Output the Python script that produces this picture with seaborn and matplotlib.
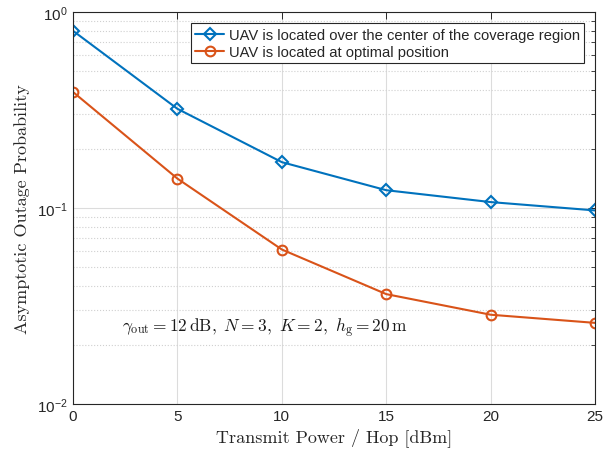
import numpy as np
import pandas as pd
import matplotlib
matplotlib.use("Agg")
import matplotlib.pyplot as plt
import seaborn as sns
from matplotlib.ticker import LogLocator, FixedLocator, NullFormatter, FuncFormatter

# Transmit power per hop (dBm)
power_dbm = [0, 5, 10, 15, 20, 25]
# Asymptotic outage probability for the two UAV placements
outage_center = [0.80, 0.32, 0.171, 0.123, 0.107, 0.097]
outage_optimal = [0.39, 0.141, 0.0613, 0.0363, 0.0285, 0.0259]
series_labels = [
    "UAV is located over the center of the coverage region",
    "UAV is located at optimal position",
]
x_ticks = [0, 5, 10, 15, 20, 25]
y_ticks = [1e-2, 1e-1, 1e0]
annotation = (r"$\gamma_{\rm out} = 12\,{\rm dB},\ N = 3,\ K = 2,\ "
              r"h_{\rm g} = 20\,{\rm m}$")

sns.set_theme(style="white")
plt.rcParams.update({
    "font.family": ["Liberation Sans", "DejaVu Sans"],
    "mathtext.fontset": "custom",
    "mathtext.rm": "Liberation Sans",
    "mathtext.it": "Liberation Sans:italic",
    "mathtext.bf": "Liberation Sans:bold",
})

blue = "#0072BD"
orange = "#D95319"

df = pd.DataFrame({
    "power": power_dbm * 2,
    "outage": outage_center + outage_optimal,
    "series": [series_labels[0]] * len(power_dbm) + [series_labels[1]] * len(power_dbm),
})

fig = plt.figure(figsize=(6.13, 4.56), dpi=100)
ax = fig.add_axes([0.119, 0.112, 0.852, 0.860])

styles = [(series_labels[0], blue, "D", 6.5), (series_labels[1], orange, "o", 7)]
for name, color, marker, ms in styles:
    sub = df[df["series"] == name]
    sns.lineplot(data=sub, x="power", y="outage", ax=ax, color=color,
                 marker=marker, markersize=ms, markerfacecolor="none",
                 markeredgecolor=color, markeredgewidth=1.5, linewidth=1.5,
                 label=name)

ax.set_yscale("log")
ax.set_xlim(0, 25)
ax.set_ylim(1e-2, 1e0)
ax.xaxis.set_major_locator(FixedLocator(x_ticks))
ax.yaxis.set_major_locator(FixedLocator(y_ticks))
ax.yaxis.set_minor_locator(LogLocator(base=10, subs=np.arange(2, 10)))
ax.yaxis.set_minor_formatter(NullFormatter())
ax.yaxis.set_major_formatter(FuncFormatter(lambda v, p: r"$10^{%d}$" % round(np.log10(v))))

ax.tick_params(axis="both", which="both", direction="in", top=True, right=True,
               labelsize=11, colors="#262626", labelcolor="#262626")
ax.tick_params(axis="both", which="major", length=5, width=0.7)
ax.tick_params(axis="y", which="minor", length=3, width=0.6)

ax.grid(True, which="major", color="#dcdcdc", linewidth=0.8, linestyle="-")
ax.grid(True, which="minor", axis="y", color="#d0d0d0", linewidth=0.8, linestyle=":")
ax.set_axisbelow(True)
for s in ax.spines.values():
    s.set_color("#262626")
    s.set_linewidth(0.8)

ax.set_xlabel("Transmit Power / Hop [dBm]", family="cmr10", fontsize=13,
              color="#262626", labelpad=3)
ax.set_ylabel("Asymptotic Outage Probability", family="cmr10", fontsize=13,
              color="#262626", labelpad=5)

ax.text(2.35, 0.0247, annotation, fontsize=12.5, va="center", ha="left",
        math_fontfamily="cm", color="#1a1a1a")

leg = ax.legend(loc="upper right", bbox_to_anchor=(0.985, 0.978), fontsize=10.6,
                frameon=True, fancybox=False, borderpad=0.3, labelspacing=0.2,
                handlelength=2.0, handletextpad=0.3, borderaxespad=0.2)
leg.get_frame().set_edgecolor("#262626")
leg.get_frame().set_linewidth(0.8)
leg.get_frame().set_alpha(1)

fig.savefig("out.png", dpi=100)
